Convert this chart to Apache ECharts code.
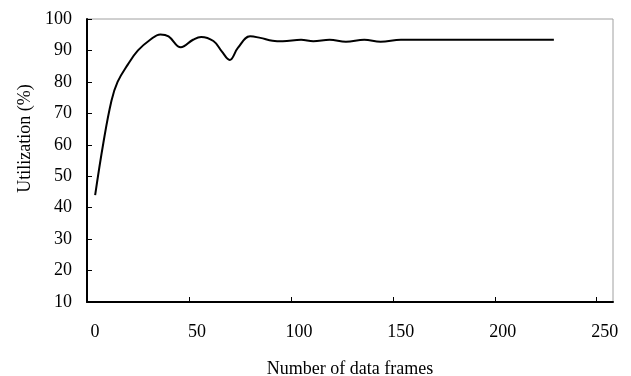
<!DOCTYPE html>
<html>
<head>
<meta charset="utf-8">
<script src="https://cdn.jsdelivr.net/npm/echarts@6/dist/echarts.min.js"></script>
<style>html,body{margin:0;padding:0;background:#fff}#c{width:631px;height:376px}</style>
</head>
<body>
<div id="c"></div>
<script>
// Data (x in axis tick units, y in %)
const frames = [4, 8, 12, 15, 20, 25, 31, 36, 40, 46, 52, 56, 62, 66, 70, 74, 80, 85, 91, 96, 105, 111, 119, 127, 136, 144, 154, 190, 229];
const utilization = [44, 60.5, 74, 80, 85.5, 90, 93.4, 95.1, 94.5, 91, 93.4, 94.3, 93, 89.8, 87, 90.8, 94.5, 94, 93.1, 92.9, 93.4, 92.9, 93.4, 92.8, 93.4, 92.8, 93.4, 93.4, 93.4];
const xTicks = [0, 50, 100, 150, 200, 250];
const yTicks = [10, 20, 30, 40, 50, 60, 70, 80, 90, 100];
const xTitle = 'Number of data frames';
const yTitle = 'Utilization (%)';

const seriesData = frames.map((f, i) => [f, utilization[i]]);
const font = 'Liberation Serif';

const chart = echarts.init(document.getElementById('c'), null, {renderer: 'canvas'});
chart.setOption({
  animation: false,
  backgroundColor: '#fff',
  grid: {left: 87, top: 19, right: 18, bottom: 74, show: true, borderColor: '#a0a0a0', borderWidth: 1, containLabel: false, outerBoundsMode: 'none'},
  xAxis: {
    type: 'value', min: 0, max: 258, interval: 50,
    name: xTitle, nameLocation: 'middle', nameGap: 58,
    nameTextStyle: {fontFamily: font, fontSize: 18, color: '#000'},
    axisLine: {lineStyle: {color: '#000', width: 2}},
    axisTick: {show: true, inside: true, length: 5, lineStyle: {color: '#000', width: 1}, customValues: xTicks},
    axisLabel: {fontFamily: font, fontSize: 18, color: '#000', margin: 21, padding: [0, 0, 0, 16], customValues: xTicks},
    splitLine: {show: false}
  },
  yAxis: {
    type: 'value', min: 10, max: 100, interval: 10,
    name: yTitle, nameLocation: 'middle', nameGap: 47, nameRotate: 90,
    nameTextStyle: {fontFamily: font, fontSize: 18, color: '#000', padding: [0, 0, 0, 44]},
    axisLine: {show: true, lineStyle: {color: '#000', width: 2}},
    axisTick: {show: true, inside: true, length: 5, lineStyle: {color: '#000', width: 1}},
    axisLabel: {fontFamily: font, fontSize: 18, color: '#000', margin: 15},
    splitLine: {show: false}
  },
  series: [{
    type: 'line', data: seriesData, smooth: 0.4, showSymbol: false,
    lineStyle: {color: '#000', width: 2}
  }]
});
</script>
</body>
</html>
